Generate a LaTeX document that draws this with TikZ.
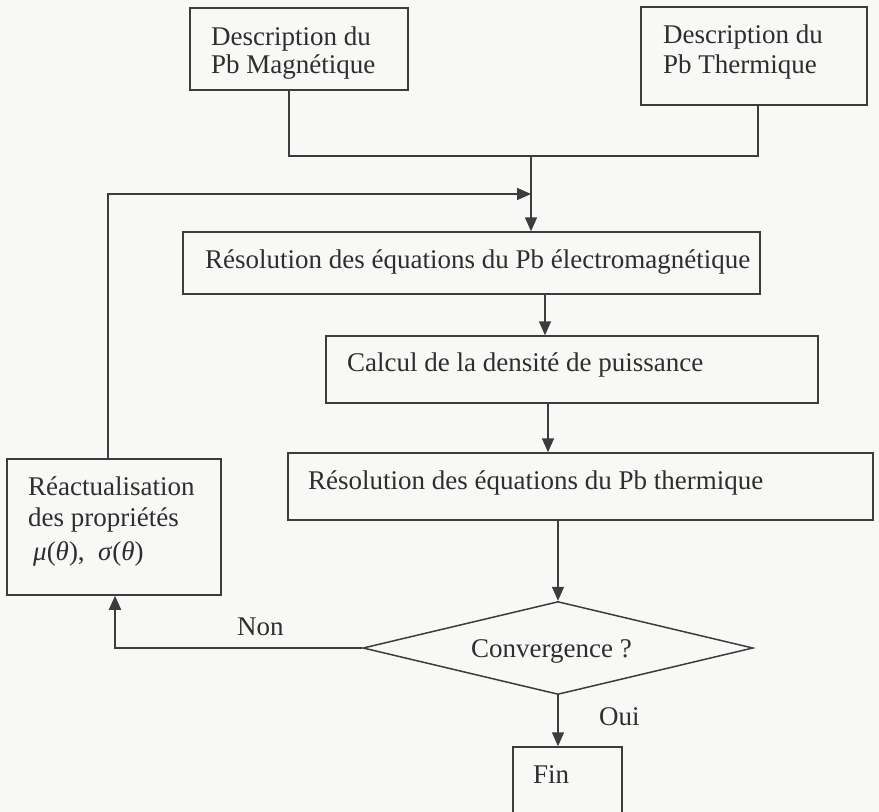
\documentclass[tikz,border=0pt]{standalone}
\usepackage{fontspec}
\setmainfont{Liberation Serif}
\usetikzlibrary{arrows.meta,shapes.geometric,fit}
\definecolor{ink}{HTML}{3C3C3C}
\definecolor{txt}{HTML}{2E2E2E}
\definecolor{paper}{HTML}{F8F8F7}

\begin{document}
\begin{tikzpicture}[x=1pt,y=-1pt,
  box/.style={draw=ink, line width=1.5pt, inner sep=0pt},
  lbl/.style={anchor=base west, inner sep=0pt, text=txt, font=\fontsize{27}{30}\selectfont},
  link/.style={draw=ink, line width=1.5pt},
  arr/.style={link, -{Triangle[length=14pt,width=12pt]}}]

% page
\fill[paper] (0,0) rectangle (879,812);
\useasboundingbox (0,0) rectangle (879,812);
\clip (0,0) rectangle (879,812);

% boxes
\node[box, fit={(190,8) (408,90)}]   (b1) {};
\node[box, fit={(641,7) (867,105)}]  (b2) {};
\node[box, fit={(183,232) (760,294)}] (r1) {};
\node[box, fit={(326,336) (818,403)}] (calc) {};
\node[box, fit={(288,453) (873,520)}] (therm) {};
\node[box, fit={(7,459) (221,595)}]   (react) {};
\node[box, fit={(513,747) (622,830)}] (fin) {};
\node[draw=ink, line width=1.5pt, diamond, inner sep=0pt,
      minimum width=390pt, minimum height=93pt] (conv) at (558,648) {};

% texts
\node[lbl] (t1a) at (211,45) {Description du};
\node[lbl] (t1b) at (211,73) {Pb Magnétique};
\node[lbl] (t2a) at (663,43) {Description du};
\node[lbl] (t2b) at (663,73) {Pb Thermique};
\node[lbl] (tr1) at (205,268) {Résolution des équations du Pb électromagnétique};
\node[lbl] (tcalc) at (347,371) {Calcul de la densité de puissance};
\node[lbl] (ttherm) at (308,489) {Résolution des équations du Pb thermique};
\node[lbl] (tra) at (28,495) {Réactualisation};
\node[lbl] (trb) at (28,526) {des propriétés};
\node[lbl] (trc) at (33,560) {\textit{μ}(\textit{θ}),\ \ \textit{σ}(\textit{θ})};
\node[lbl] (tconv) at (471,657) {Convergence ?};
\node[lbl] (tnon) at (237,635) {Non};
\node[lbl] (toui) at (599,725) {Oui};
\node[lbl] (tfin) at (533,783) {Fin};

% helper columns for the connectors
\coordinate (s1) at (289,0);
\coordinate (s2) at (758,0);
\coordinate (jm) at (531,156);
\coordinate (s3) at (108,0);
\coordinate (fb) at (531,194);
\coordinate (a1) at (545,0);
\coordinate (a2) at (548,0);
\coordinate (s4) at (115,0);

% connectors
\draw[link] (b1.south -| s1) |- (jm) -| (b2.south -| s2);
\draw[arr] (jm) -- (jm |- r1.north);
\draw[arr] (react.north -| s3) |- (fb);
\draw[arr] (r1.south -| a1) -- (calc.north -| a1);
\draw[arr] (calc.south -| a2) -- (therm.north -| a2);
\draw[arr] (therm.south -| conv.north) -- (conv.north);
\draw[arr] (conv.south) -- (conv.south |- fin.north);
\draw[arr] (conv.west) -| (react.south -| s4);
\end{tikzpicture}
\end{document}
